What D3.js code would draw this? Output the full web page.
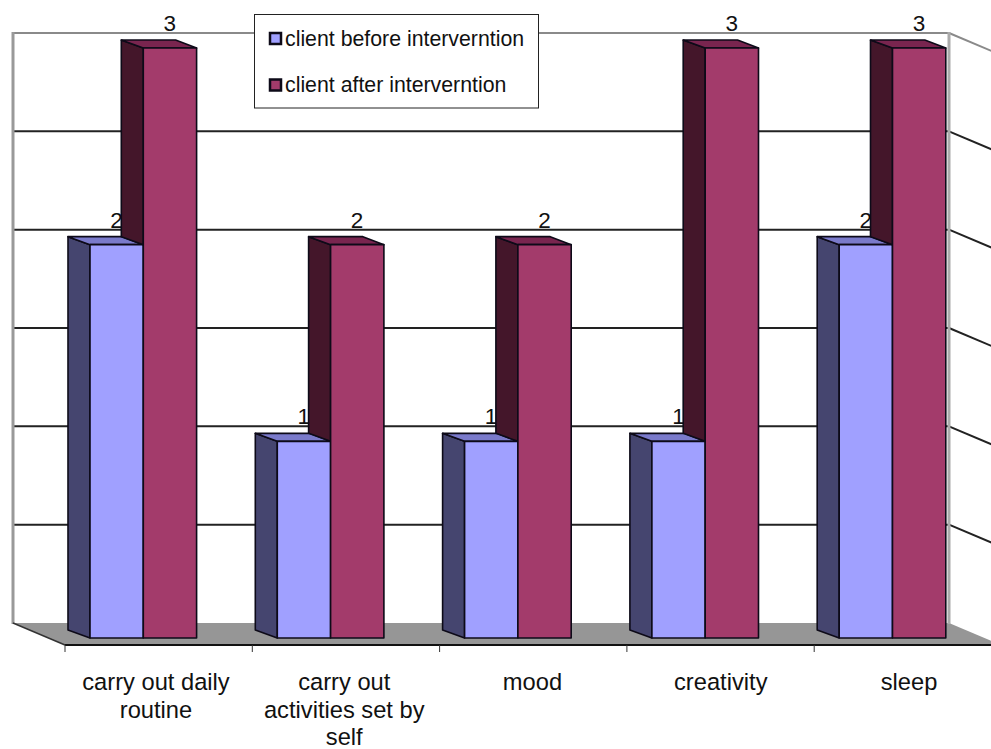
<!DOCTYPE html>
<html><head><meta charset="utf-8">
<script src="https://cdn.jsdelivr.net/npm/d3@7"></script>
<style>html,body{margin:0;padding:0;background:#fff}svg{display:block}text{font-family:"Liberation Sans",Arial,sans-serif;fill:#111}</style>
</head><body><svg id="c" width="991" height="749"></svg>
<script>
const categories=[["carry out daily","routine"],["carry out","activities set by","self"],["mood"],["creativity"],["sleep"]];
const seriesNames=["client before interverntion","client after interverntion"];
const before=[2,1,1,1,2];
const after=[3,2,2,3,3];
const gridValues=[0,0.5,1,1.5,2,2.5,3];
const seriesFront=["#a0a0ff","#a33b6b"];
const seriesSide=["#45456f","#44162a"];
const seriesTop=["#7a7acb","#79254f"];

const svg=d3.select("#c");
const x=d3.scaleBand().domain(d3.range(categories.length)).range([65,1001.5]);
const xLabel=d3.scalePoint().domain(d3.range(categories.length)).range([156,909]);
const yFront=d3.scaleLinear().domain([0,3]).range([638,48]);
const yBack=d3.scaleLinear().domain([0,3]).range([623,33]);
const depth={dx:52,dy:22}, barD={dx:22,dy:8};
const barW=53.3, barOff=25;
const line=d3.line();

// floor
svg.append("path").attr("d",line([[13,623],[949,623],[1001,645],[65,645]])+"Z").attr("fill","#969696");
svg.append("line").attr("x1",65).attr("x2",991).attr("y1",645).attr("y2",645).attr("stroke","#111").attr("stroke-width",2);
// walls
gridValues.slice(1).forEach(v=>{
  const y=yBack(v);
  const col=(v===3)?"#8a8a8a":"#222";
  svg.append("line").attr("x1",13).attr("x2",949).attr("y1",y).attr("y2",y).attr("stroke",col).attr("stroke-width",2);
  svg.append("line").attr("x1",949).attr("x2",949+depth.dx).attr("y1",y).attr("y2",y+depth.dy).attr("stroke",col).attr("stroke-width",2);
});
svg.append("line").attr("x1",13).attr("x2",13).attr("y1",32).attr("y2",624).attr("stroke","#999").attr("stroke-width",3);
svg.append("line").attr("x1",949).attr("x2",949).attr("y1",32).attr("y2",624).attr("stroke","#aaa").attr("stroke-width",3);
svg.append("line").attr("x1",13).attr("x2",65).attr("y1",623).attr("y2",645).attr("stroke","#333").attr("stroke-width",1.5);
// ticks
d3.range(categories.length).forEach(i=>{
  svg.append("line").attr("x1",x(i)).attr("x2",x(i)).attr("y1",645).attr("y2",652).attr("stroke","#333").attr("stroke-width",1);
});

function bar(i,s,v,floorV){
  const x0=x(i)+barOff+s*barW, x1=x0+barW, yT=yFront(v), yB=yFront(0), ySide=yFront(floorV);
  const g=svg.append("g").attr("stroke","#0d0a18").attr("stroke-width",1.6).attr("stroke-linejoin","round");
  g.append("path").attr("d",line([[x0-barD.dx,yT-barD.dy],[x0,yT],[x0,ySide],[x0-barD.dx,ySide-barD.dy]])+"Z").attr("fill",seriesSide[s]);
  g.append("path").attr("d",line([[x0-barD.dx,yT-barD.dy],[x1-barD.dx+1,yT-barD.dy],[x1,yT],[x0,yT]])+"Z").attr("fill",seriesTop[s]);
  g.append("rect").attr("x",x0).attr("y",yT).attr("width",barW).attr("height",yB-yT).attr("fill",seriesFront[s]);
}
function label(i,s,v){
  const x0=x(i)+barOff+s*barW;
  svg.append("text").attr("x",x0+26.5).attr("y",yFront(v)-17).attr("text-anchor","middle").attr("font-size",22.5).text(v);
}
d3.range(categories.length).forEach(i=>{
  label(i,0,before[i]); bar(i,0,before[i],0);
  bar(i,1,after[i],before[i]); label(i,1,after[i]);
});
// category labels
categories.forEach((c,i)=>{
  const t=svg.append("text").attr("text-anchor","middle").attr("font-size",23.7);
  c.forEach((s,k)=>t.append("tspan").attr("x",xLabel(i)).attr("y",690+k*27.5).text(s));
});
// legend
svg.append("rect").attr("x",254.5).attr("y",14.5).attr("width",284).attr("height",93.5).attr("fill","#fff").attr("stroke","#222").attr("stroke-width",1);
seriesNames.forEach((n,i)=>{
  const y=33+i*46.5;
  svg.append("rect").attr("x",270).attr("y",y).attr("width",11).attr("height",11).attr("fill",seriesFront[i]).attr("stroke","#0d0a18").attr("stroke-width",2.5);
  svg.append("text").attr("x",285).attr("y",y+12.7).attr("font-size",21.3).text(n);
});
</script></body></html>
